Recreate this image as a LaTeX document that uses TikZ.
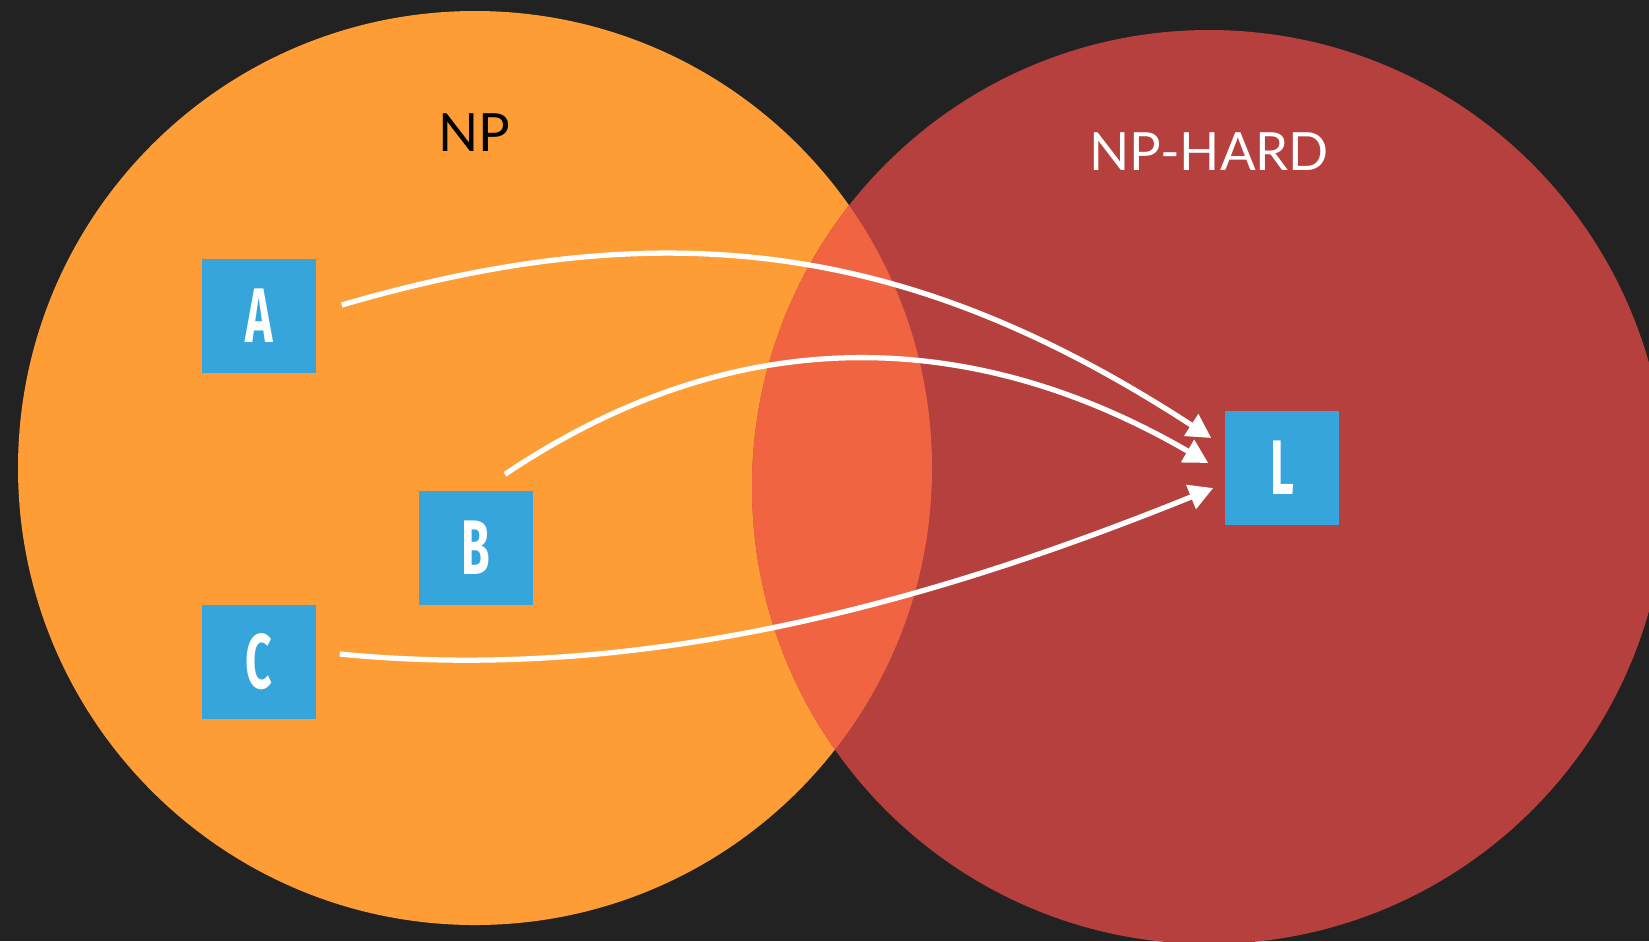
\documentclass[tikz,border=0pt]{standalone}
\usepackage{fontspec}
\setmainfont{Lato}
\newfontfamily\boxfont[FakeStretch=0.6]{Fira Sans}
\usetikzlibrary{arrows.meta}
\definecolor{npbg}{RGB}{34,34,34}
\definecolor{nporange}{RGB}{254,157,53}
\definecolor{nphard}{RGB}{181,64,61}
\definecolor{nplens}{RGB}{241,100,65}
\definecolor{npblue}{RGB}{54,165,219}
\begin{document}
\begin{tikzpicture}[x=0.01cm,y=-0.01cm,
    probbox/.style={fill=npblue,minimum size=1.14cm,inner sep=0pt,text=white,font=\boxfont\bfseries\fontsize{22}{22}\selectfont},
    setlabel/.style={inner sep=0pt,font=\fontsize{15}{15}\selectfont},
    reduce/.style={white,line width=1.5pt,-{Triangle[length=0.24cm,width=0.25cm]}}]
        \fill[npbg] (0,0) rectangle (1649,941);
        \useasboundingbox (0,0) rectangle (1649,941);
        \clip (0,0) rectangle (1649,941);
        % the two sets and their overlap
        \fill[nporange] (475,468) circle[radius=457];
        \fill[nphard] (1209,487) circle[radius=457];
        \begin{scope}
          \clip (475,468) circle[radius=457];
          \fill[nplens] (1209,487) circle[radius=457];
        \end{scope}
        \node[setlabel,text=black] (np) at (474,133) {NP};
        \node[setlabel,text=white] (nph) at (1209,152) {NP-HARD};
        % problems
        \node[probbox] (A) at (259,316) {A};
        \node[probbox] (B) at (476,548) {B};
        \node[probbox] (C) at (259,662) {C};
        \node[probbox] (L) at (1282,468) {L};
        % reductions
        \draw[reduce] ([shift={(25,-11)}]A.east) .. controls (677,207) and (919,248) .. ([shift={(-13,-30)}]L.west);
        \draw[reduce] ([shift={(29,-16)}]B.north) .. controls (742,315) and (979,330) .. ([shift={(-16,-5)}]L.west);
        \draw[reduce] ([shift={(23,-8)}]C.east) .. controls (645,684) and (936,600) .. ([shift={(-11,20)}]L.west);
      \end{tikzpicture}
\end{document}
